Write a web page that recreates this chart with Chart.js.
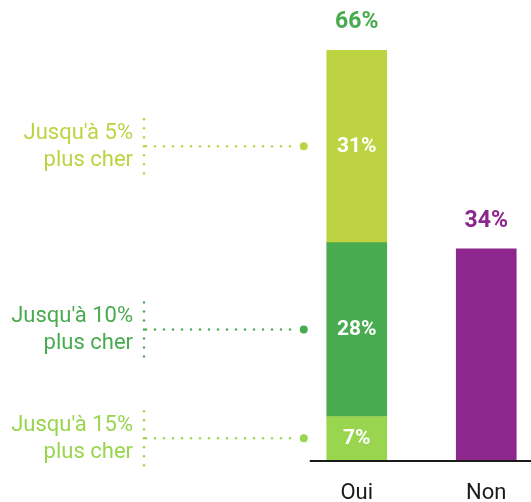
<!DOCTYPE html>
<html>
<head>
<meta charset="utf-8">
<script src="https://cdn.jsdelivr.net/npm/chart.js@4.4.1/dist/chart.umd.min.js"></script>
<style>
  html, body { margin: 0; padding: 0; background: #fff; overflow: hidden; }
  #wrap { width: 551px; height: 502px; }
</style>
</head>
<body>
<div id="wrap"><canvas id="prix_chart" width="551" height="502"></canvas></div>
<script>
(function() {

  // categories on the x axis
  const categories = ['Oui', 'Non'];

  // "Oui" is split into three price tiers (bottom to top)
  const tierNames = ["Jusqu'à 15%", "Jusqu'à 10%", "Jusqu'à 5%"];
  const tierValues = [7, 28, 31];
  const tierColors = ['#99d54f', '#49ab4f', '#bdd342'];

  const nonValue = 34;
  const nonColor = '#8d278e';
  const totalColors = ['#49ab4f', '#8d278e'];

  Chart.defaults.font.family = 'Roboto, "Noto Sans", sans-serif';
  Chart.defaults.plugins.legend.display = false;
  Chart.defaults.plugins.tooltip.enabled = false;

  const datasets = tierValues.map((v, i) => ({
    label: tierNames[i],
    data: [v, null],
    backgroundColor: tierColors[i],
    borderWidth: 0,
    barThickness: 60
  }));
  datasets.push({
    label: 'Non',
    data: [null, nonValue],
    backgroundColor: nonColor,
    borderWidth: 0,
    barThickness: 60
  });

  function dotRow(ctx, x1, x2, y, step) {
    for (let x = x1; x <= x2; x += step) {
      ctx.beginPath();
      ctx.arc(x, y, 1.2, 0, Math.PI * 2);
      ctx.fill();
    }
  }
  function dotCol(ctx, x, y1, y2, step) {
    for (let y = y1; y <= y2; y += step) {
      ctx.beginPath();
      ctx.arc(x, y, 1.2, 0, Math.PI * 2);
      ctx.fill();
    }
  }

  const labelsPlugin = {
    id: 'labelsPlugin',
    afterDatasetsDraw(chart) {
      const ctx = chart.ctx;
      const area = chart.chartArea;
      ctx.save();

      // base line, starting a little left of the Oui bar
      const first = chart.getDatasetMeta(0).data[0];
      ctx.strokeStyle = '#1a1a1a';
      ctx.lineWidth = 2;
      ctx.beginPath();
      ctx.moveTo(first.x - first.width / 2 - 17, area.bottom + 1);
      ctx.lineTo(area.right, area.bottom + 1);
      ctx.stroke();

      ctx.textAlign = 'center';
      ctx.textBaseline = 'middle';

      // values inside the Oui segments + callouts on the left
      tierValues.forEach((v, i) => {
        const bar = chart.getDatasetMeta(i).data[0];
        const cy = (bar.y + bar.base) / 2;
        ctx.fillStyle = '#fff';
        ctx.font = 'bold 21px Roboto, sans-serif';
        ctx.fillText(v + '%', bar.x, cy);

        const left = bar.x - bar.width / 2;
        ctx.fillStyle = tierColors[i];
        dotRow(ctx, 146, left - 30, cy, 9);
        ctx.beginPath();
        ctx.arc(left - 23, cy, 4, 0, Math.PI * 2);
        ctx.fill();
        dotCol(ctx, 144, cy - 27, cy + 27, 9);

        ctx.textAlign = 'right';
        ctx.font = '22px Roboto, sans-serif';
        ctx.fillText(tierNames[i], 133, cy - 13);
        ctx.fillText('plus cher', 133, cy + 14);
        ctx.textAlign = 'center';
      });

      // totals above each bar
      const totals = [tierValues.reduce((a, b) => a + b, 0), nonValue];
      const tops = [chart.getDatasetMeta(tierValues.length - 1).data[0], chart.getDatasetMeta(tierValues.length).data[1]];
      ctx.font = 'bold 23px Roboto, sans-serif';
      totals.forEach((t, i) => {
        ctx.fillStyle = totalColors[i];
        ctx.fillText(t + '%', tops[i].x, tops[i].y - 28);
      });
      ctx.restore();
    }
  };

  new Chart(document.getElementById('prix_chart'), {
    type: 'bar',
    data: { labels: categories, datasets: datasets },
    plugins: [labelsPlugin],
    options: {
      responsive: false,
      animation: false,
      layout: { padding: { left: 292, top: 50, right: 0, bottom: 0 } },
      scales: {
        x: {
          stacked: true,
          grid: { display: false, drawTicks: false },
          border: { display: false },
          ticks: { color: '#1a1a1a', font: { size: 22 }, padding: 20 },
          afterFit: s => { s.height = 42; }
        },
        y: {
          stacked: true,
          display: false,
          min: 0,
          max: 66
        }
      }
    }
  });

})();
</script>
</body>
</html>
